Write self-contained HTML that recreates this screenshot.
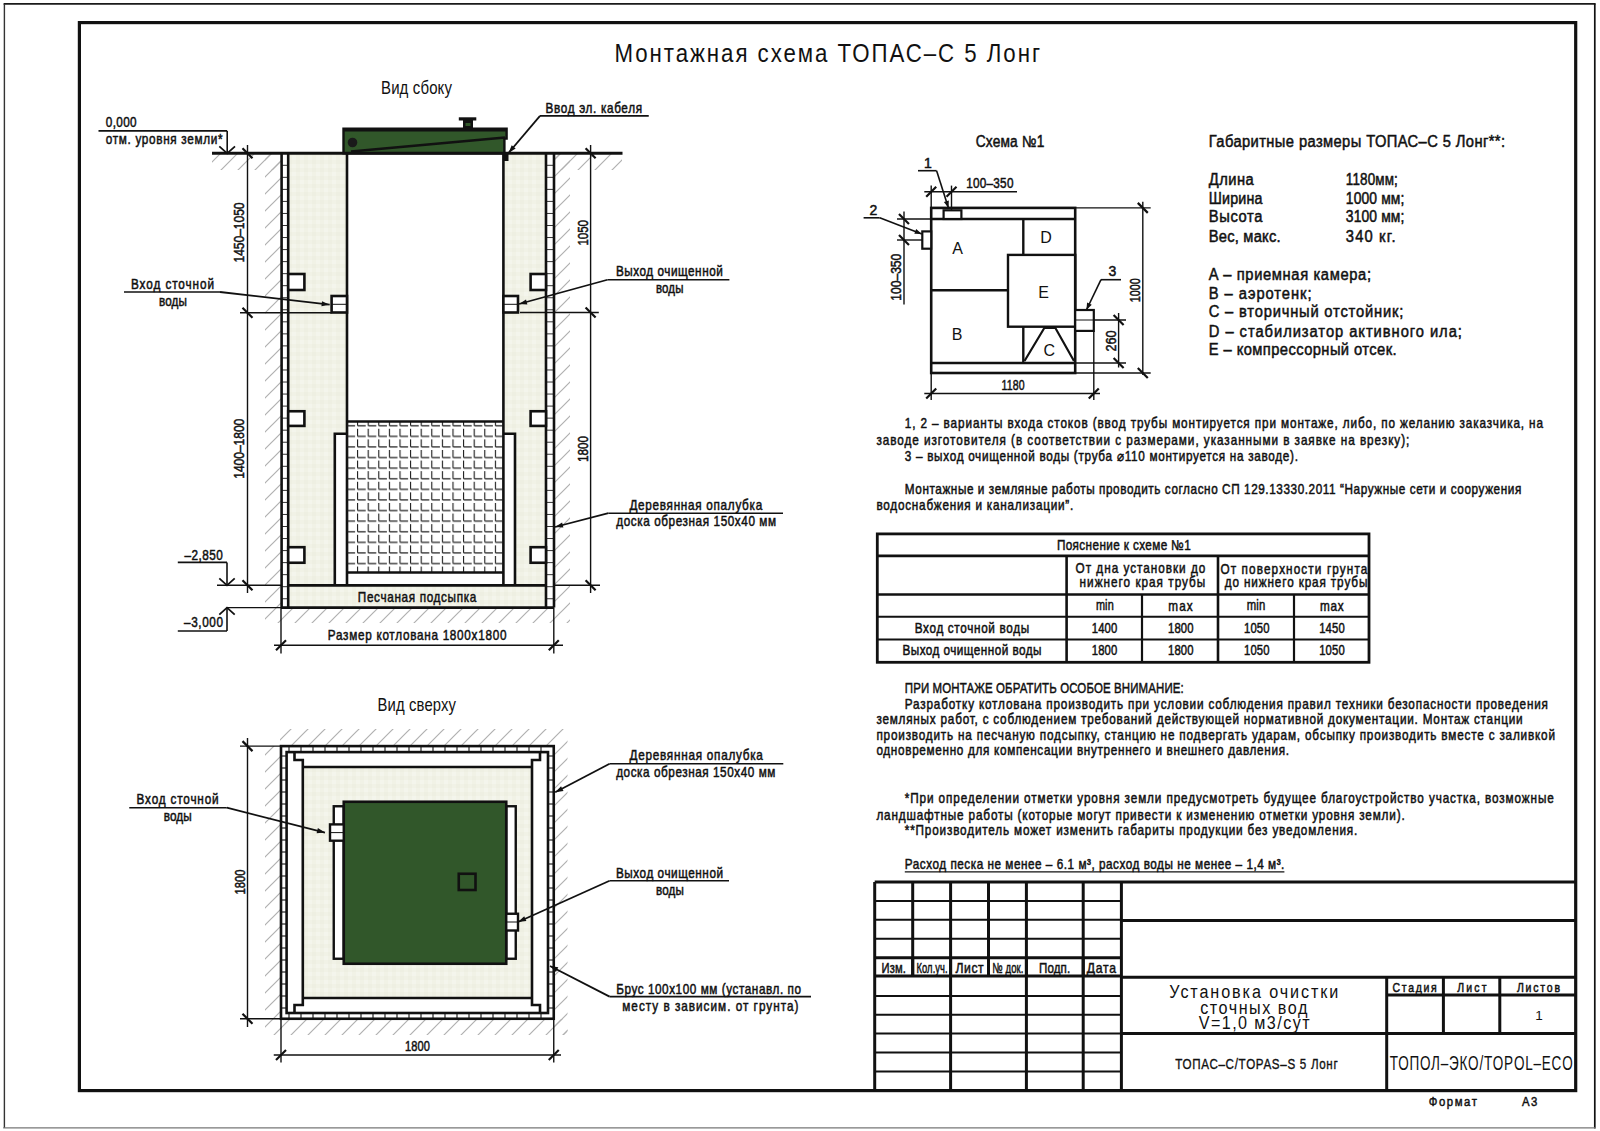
<!DOCTYPE html>
<html><head><meta charset="utf-8"><style>html,body{margin:0;padding:0;background:#fff;overflow:hidden;}svg{display:block;font-family:"Liberation Sans",sans-serif;}</style></head><body>
<svg width="1600" height="1131" viewBox="0 0 1600 1131" font-family="Liberation Sans, sans-serif">
<defs>
<pattern id="hatch" width="17" height="17" patternUnits="userSpaceOnUse"><path d="M0,17 L17,0 M-4,4 L4,-4 M13,21 L21,13" stroke="#b0b0b0" stroke-width="1.2"/></pattern>
<pattern id="sand" width="8" height="8" patternUnits="userSpaceOnUse"><rect width="8" height="8" fill="#f1f2e6"/><rect x="0" y="0" width="4" height="4" fill="#eeefe2"/><rect x="4" y="4" width="4" height="4" fill="#f4f5ec"/></pattern>
<pattern id="grid" width="10.6" height="10.6" patternUnits="userSpaceOnUse" x="345.5" y="417.2"><path d="M1.5,0.9 V8.5 M1.5,8.5 H9.6" stroke="#1a1a1a" stroke-width="1.1"/></pattern>
</defs>
<rect width="1600" height="1131" fill="#fff"/>
<line x1="3.60" y1="3.90" x2="1595.50" y2="3.90" stroke="#1a1a1a" stroke-width="1.7"/>
<line x1="4.40" y1="3.90" x2="4.40" y2="1128.00" stroke="#333" stroke-width="1.4"/>
<line x1="1594.80" y1="3.60" x2="1594.80" y2="1128.50" stroke="#111" stroke-width="1.7"/>
<line x1="3.20" y1="1127.90" x2="1595.50" y2="1127.90" stroke="#777" stroke-width="1.4"/>
<rect x="79.40" y="22.60" width="1496.30" height="1068.00" fill="none" stroke="#111" stroke-width="3.2"/>
<text transform="translate(614.40,62.20) scale(0.84,1)" x="0" y="0" font-size="26.5" font-weight="normal" fill="#111" textLength="506.7" lengthAdjust="spacing">Монтажная схема ТОПАС–С 5 Лонг</text>
<text transform="translate(381.00,94.00) scale(0.8329,1)" x="0" y="0" font-size="18" font-weight="normal" fill="#111" textLength="85.2" lengthAdjust="spacing">Вид сбоку</text>
<rect x="212.00" y="154.00" width="69.00" height="16.00" fill="url(#hatch)"/>
<rect x="265.00" y="154.00" width="16.00" height="454.00" fill="url(#hatch)"/>
<rect x="554.00" y="154.00" width="68.00" height="16.00" fill="url(#hatch)"/>
<rect x="554.00" y="154.00" width="16.00" height="454.00" fill="url(#hatch)"/>
<rect x="265.00" y="608.00" width="305.00" height="15.00" fill="url(#hatch)"/>
<rect x="288.00" y="153.00" width="59.00" height="432.00" fill="url(#sand)"/>
<rect x="503.00" y="153.00" width="43.00" height="432.00" fill="url(#sand)"/>
<rect x="288.00" y="585.00" width="258.00" height="22.60" fill="url(#sand)"/>
<rect x="335.00" y="434.00" width="12.00" height="151.00" fill="#fff"/>
<rect x="503.00" y="434.00" width="12.00" height="151.00" fill="#fff"/>
<rect x="281.60" y="153.00" width="6.60" height="454.60" fill="#fff"/>
<line x1="281.60" y1="165.30" x2="288.20" y2="165.30" stroke="#333" stroke-width="1.0"/>
<line x1="281.60" y1="177.34" x2="288.20" y2="177.34" stroke="#333" stroke-width="1.0"/>
<line x1="281.60" y1="189.38" x2="288.20" y2="189.38" stroke="#333" stroke-width="1.0"/>
<line x1="281.60" y1="201.42" x2="288.20" y2="201.42" stroke="#333" stroke-width="1.0"/>
<line x1="281.60" y1="213.46" x2="288.20" y2="213.46" stroke="#333" stroke-width="1.0"/>
<line x1="281.60" y1="225.50" x2="288.20" y2="225.50" stroke="#333" stroke-width="1.0"/>
<line x1="281.60" y1="237.54" x2="288.20" y2="237.54" stroke="#333" stroke-width="1.0"/>
<line x1="281.60" y1="249.58" x2="288.20" y2="249.58" stroke="#333" stroke-width="1.0"/>
<line x1="281.60" y1="261.62" x2="288.20" y2="261.62" stroke="#333" stroke-width="1.0"/>
<line x1="281.60" y1="273.66" x2="288.20" y2="273.66" stroke="#333" stroke-width="1.0"/>
<line x1="281.60" y1="285.70" x2="288.20" y2="285.70" stroke="#333" stroke-width="1.0"/>
<line x1="281.60" y1="297.74" x2="288.20" y2="297.74" stroke="#333" stroke-width="1.0"/>
<line x1="281.60" y1="309.78" x2="288.20" y2="309.78" stroke="#333" stroke-width="1.0"/>
<line x1="281.60" y1="321.82" x2="288.20" y2="321.82" stroke="#333" stroke-width="1.0"/>
<line x1="281.60" y1="333.86" x2="288.20" y2="333.86" stroke="#333" stroke-width="1.0"/>
<line x1="281.60" y1="345.90" x2="288.20" y2="345.90" stroke="#333" stroke-width="1.0"/>
<line x1="281.60" y1="357.94" x2="288.20" y2="357.94" stroke="#333" stroke-width="1.0"/>
<line x1="281.60" y1="369.98" x2="288.20" y2="369.98" stroke="#333" stroke-width="1.0"/>
<line x1="281.60" y1="382.02" x2="288.20" y2="382.02" stroke="#333" stroke-width="1.0"/>
<line x1="281.60" y1="394.06" x2="288.20" y2="394.06" stroke="#333" stroke-width="1.0"/>
<line x1="281.60" y1="406.10" x2="288.20" y2="406.10" stroke="#333" stroke-width="1.0"/>
<line x1="281.60" y1="418.14" x2="288.20" y2="418.14" stroke="#333" stroke-width="1.0"/>
<line x1="281.60" y1="430.18" x2="288.20" y2="430.18" stroke="#333" stroke-width="1.0"/>
<line x1="281.60" y1="442.22" x2="288.20" y2="442.22" stroke="#333" stroke-width="1.0"/>
<line x1="281.60" y1="454.26" x2="288.20" y2="454.26" stroke="#333" stroke-width="1.0"/>
<line x1="281.60" y1="466.30" x2="288.20" y2="466.30" stroke="#333" stroke-width="1.0"/>
<line x1="281.60" y1="478.34" x2="288.20" y2="478.34" stroke="#333" stroke-width="1.0"/>
<line x1="281.60" y1="490.38" x2="288.20" y2="490.38" stroke="#333" stroke-width="1.0"/>
<line x1="281.60" y1="502.42" x2="288.20" y2="502.42" stroke="#333" stroke-width="1.0"/>
<line x1="281.60" y1="514.46" x2="288.20" y2="514.46" stroke="#333" stroke-width="1.0"/>
<line x1="281.60" y1="526.50" x2="288.20" y2="526.50" stroke="#333" stroke-width="1.0"/>
<line x1="281.60" y1="538.54" x2="288.20" y2="538.54" stroke="#333" stroke-width="1.0"/>
<line x1="281.60" y1="550.58" x2="288.20" y2="550.58" stroke="#333" stroke-width="1.0"/>
<line x1="281.60" y1="562.62" x2="288.20" y2="562.62" stroke="#333" stroke-width="1.0"/>
<line x1="281.60" y1="574.66" x2="288.20" y2="574.66" stroke="#333" stroke-width="1.0"/>
<line x1="281.60" y1="586.70" x2="288.20" y2="586.70" stroke="#333" stroke-width="1.0"/>
<line x1="281.60" y1="598.74" x2="288.20" y2="598.74" stroke="#333" stroke-width="1.0"/>
<line x1="281.60" y1="153.00" x2="281.60" y2="607.60" stroke="#111" stroke-width="2.6"/>
<line x1="288.20" y1="153.00" x2="288.20" y2="607.60" stroke="#111" stroke-width="2.6"/>
<rect x="546.00" y="153.00" width="8.00" height="454.60" fill="#fff"/>
<line x1="546.00" y1="165.30" x2="554.00" y2="165.30" stroke="#333" stroke-width="1.0"/>
<line x1="546.00" y1="177.34" x2="554.00" y2="177.34" stroke="#333" stroke-width="1.0"/>
<line x1="546.00" y1="189.38" x2="554.00" y2="189.38" stroke="#333" stroke-width="1.0"/>
<line x1="546.00" y1="201.42" x2="554.00" y2="201.42" stroke="#333" stroke-width="1.0"/>
<line x1="546.00" y1="213.46" x2="554.00" y2="213.46" stroke="#333" stroke-width="1.0"/>
<line x1="546.00" y1="225.50" x2="554.00" y2="225.50" stroke="#333" stroke-width="1.0"/>
<line x1="546.00" y1="237.54" x2="554.00" y2="237.54" stroke="#333" stroke-width="1.0"/>
<line x1="546.00" y1="249.58" x2="554.00" y2="249.58" stroke="#333" stroke-width="1.0"/>
<line x1="546.00" y1="261.62" x2="554.00" y2="261.62" stroke="#333" stroke-width="1.0"/>
<line x1="546.00" y1="273.66" x2="554.00" y2="273.66" stroke="#333" stroke-width="1.0"/>
<line x1="546.00" y1="285.70" x2="554.00" y2="285.70" stroke="#333" stroke-width="1.0"/>
<line x1="546.00" y1="297.74" x2="554.00" y2="297.74" stroke="#333" stroke-width="1.0"/>
<line x1="546.00" y1="309.78" x2="554.00" y2="309.78" stroke="#333" stroke-width="1.0"/>
<line x1="546.00" y1="321.82" x2="554.00" y2="321.82" stroke="#333" stroke-width="1.0"/>
<line x1="546.00" y1="333.86" x2="554.00" y2="333.86" stroke="#333" stroke-width="1.0"/>
<line x1="546.00" y1="345.90" x2="554.00" y2="345.90" stroke="#333" stroke-width="1.0"/>
<line x1="546.00" y1="357.94" x2="554.00" y2="357.94" stroke="#333" stroke-width="1.0"/>
<line x1="546.00" y1="369.98" x2="554.00" y2="369.98" stroke="#333" stroke-width="1.0"/>
<line x1="546.00" y1="382.02" x2="554.00" y2="382.02" stroke="#333" stroke-width="1.0"/>
<line x1="546.00" y1="394.06" x2="554.00" y2="394.06" stroke="#333" stroke-width="1.0"/>
<line x1="546.00" y1="406.10" x2="554.00" y2="406.10" stroke="#333" stroke-width="1.0"/>
<line x1="546.00" y1="418.14" x2="554.00" y2="418.14" stroke="#333" stroke-width="1.0"/>
<line x1="546.00" y1="430.18" x2="554.00" y2="430.18" stroke="#333" stroke-width="1.0"/>
<line x1="546.00" y1="442.22" x2="554.00" y2="442.22" stroke="#333" stroke-width="1.0"/>
<line x1="546.00" y1="454.26" x2="554.00" y2="454.26" stroke="#333" stroke-width="1.0"/>
<line x1="546.00" y1="466.30" x2="554.00" y2="466.30" stroke="#333" stroke-width="1.0"/>
<line x1="546.00" y1="478.34" x2="554.00" y2="478.34" stroke="#333" stroke-width="1.0"/>
<line x1="546.00" y1="490.38" x2="554.00" y2="490.38" stroke="#333" stroke-width="1.0"/>
<line x1="546.00" y1="502.42" x2="554.00" y2="502.42" stroke="#333" stroke-width="1.0"/>
<line x1="546.00" y1="514.46" x2="554.00" y2="514.46" stroke="#333" stroke-width="1.0"/>
<line x1="546.00" y1="526.50" x2="554.00" y2="526.50" stroke="#333" stroke-width="1.0"/>
<line x1="546.00" y1="538.54" x2="554.00" y2="538.54" stroke="#333" stroke-width="1.0"/>
<line x1="546.00" y1="550.58" x2="554.00" y2="550.58" stroke="#333" stroke-width="1.0"/>
<line x1="546.00" y1="562.62" x2="554.00" y2="562.62" stroke="#333" stroke-width="1.0"/>
<line x1="546.00" y1="574.66" x2="554.00" y2="574.66" stroke="#333" stroke-width="1.0"/>
<line x1="546.00" y1="586.70" x2="554.00" y2="586.70" stroke="#333" stroke-width="1.0"/>
<line x1="546.00" y1="598.74" x2="554.00" y2="598.74" stroke="#333" stroke-width="1.0"/>
<line x1="546.00" y1="153.00" x2="546.00" y2="607.60" stroke="#111" stroke-width="2.6"/>
<line x1="554.00" y1="153.00" x2="554.00" y2="607.60" stroke="#111" stroke-width="2.6"/>
<line x1="347.00" y1="153.00" x2="347.00" y2="585.30" stroke="#111" stroke-width="2.6"/>
<line x1="503.40" y1="153.00" x2="503.40" y2="585.30" stroke="#111" stroke-width="2.6"/>
<rect x="347.00" y="421.50" width="156.40" height="151.00" fill="url(#grid)"/>
<line x1="347.00" y1="421.50" x2="503.40" y2="421.50" stroke="#111" stroke-width="2.6"/>
<line x1="347.00" y1="572.50" x2="503.40" y2="572.50" stroke="#111" stroke-width="2.6"/>
<path d="M334.8,585 V433.7 H347" fill="none" stroke="#111" stroke-width="2.6"/>
<path d="M515,585 V433.7 H503.4" fill="none" stroke="#111" stroke-width="2.6"/>
<line x1="288.00" y1="585.30" x2="546.00" y2="585.30" stroke="#111" stroke-width="2.8"/>
<line x1="281.00" y1="607.60" x2="554.00" y2="607.60" stroke="#111" stroke-width="2.8"/>
<rect x="288.20" y="274.00" width="16.20" height="16.00" fill="#fff" stroke="#111" stroke-width="2.6"/>
<rect x="530.60" y="274.00" width="15.40" height="16.00" fill="#fff" stroke="#111" stroke-width="2.6"/>
<rect x="288.20" y="411.25" width="16.20" height="14.65" fill="#fff" stroke="#111" stroke-width="2.6"/>
<rect x="530.60" y="411.25" width="15.40" height="14.65" fill="#fff" stroke="#111" stroke-width="2.6"/>
<rect x="288.20" y="547.20" width="16.20" height="15.55" fill="#fff" stroke="#111" stroke-width="2.6"/>
<rect x="530.60" y="547.20" width="15.40" height="15.55" fill="#fff" stroke="#111" stroke-width="2.6"/>
<rect x="331.60" y="296.00" width="15.40" height="16.50" fill="#fff" stroke="#111" stroke-width="2.6"/>
<line x1="331.60" y1="304.30" x2="347.00" y2="304.30" stroke="#111" stroke-width="1"/>
<rect x="503.40" y="296.00" width="14.60" height="16.50" fill="#fff" stroke="#111" stroke-width="2.6"/>
<line x1="503.40" y1="304.30" x2="518.00" y2="304.30" stroke="#111" stroke-width="1"/>
<path d="M343.5,153 V128.6 H506.6 V138.6 H504.4 V153" fill="none" stroke="#111" stroke-width="0"/>
<path d="M343.5,153.3 V128.6 H506.6 V138.6 H504.4 V153.3 Z" fill="#31572a" stroke="#111" stroke-width="2.4"/>
<line x1="343.50" y1="129.80" x2="506.60" y2="129.80" stroke="#111" stroke-width="3.5"/>
<line x1="351.00" y1="151.50" x2="505.00" y2="137.50" stroke="#111" stroke-width="2.6"/>
<circle cx="352.5" cy="142.5" r="4.8" fill="#1a1a1a"/>
<ellipse cx="352" cy="801" rx="3.5" ry="1.8" fill="#111"/>
<rect x="463" y="120" width="10" height="9" fill="#111"/><rect x="465.5" y="123" width="5" height="3" fill="#31572a"/>
<rect x="458.8" y="117.3" width="17.5" height="3.2" fill="#111"/>
<line x1="212.00" y1="153.30" x2="622.50" y2="153.30" stroke="#111" stroke-width="3"/>
<rect x="503.00" y="153.00" width="5.50" height="8.00" fill="#111"/>
<line x1="247.50" y1="145.00" x2="247.50" y2="593.00" stroke="#111" stroke-width="1.4"/>
<line x1="242.50" y1="148.30" x2="252.50" y2="158.30" stroke="#111" stroke-width="2.2"/>
<line x1="242.50" y1="307.75" x2="252.50" y2="317.75" stroke="#111" stroke-width="2.2"/>
<line x1="242.50" y1="580.30" x2="252.50" y2="590.30" stroke="#111" stroke-width="2.2"/>
<line x1="240.00" y1="312.75" x2="331.60" y2="312.75" stroke="#111" stroke-width="1.4"/>
<line x1="217.00" y1="585.30" x2="281.60" y2="585.30" stroke="#111" stroke-width="1.4"/>
<line x1="227.00" y1="607.60" x2="281.60" y2="607.60" stroke="#111" stroke-width="1.4"/>
<text x="238.70" y="232.50" font-size="14.0" font-weight="normal" text-anchor="middle" fill="#111" textLength="60.0" lengthAdjust="spacingAndGlyphs" transform="rotate(-90 238.70 232.50)" dominant-baseline="central" stroke="#111" stroke-width="0.5">1450–1050</text>
<text x="238.70" y="448.75" font-size="14.0" font-weight="normal" text-anchor="middle" fill="#111" textLength="60.0" lengthAdjust="spacingAndGlyphs" transform="rotate(-90 238.70 448.75)" dominant-baseline="central" stroke="#111" stroke-width="0.5">1400–1800</text>
<line x1="590.60" y1="145.00" x2="590.60" y2="593.00" stroke="#111" stroke-width="1.4"/>
<line x1="585.60" y1="148.30" x2="595.60" y2="158.30" stroke="#111" stroke-width="2.2"/>
<line x1="585.60" y1="307.50" x2="595.60" y2="317.50" stroke="#111" stroke-width="2.2"/>
<line x1="585.60" y1="580.30" x2="595.60" y2="590.30" stroke="#111" stroke-width="2.2"/>
<line x1="520.00" y1="312.50" x2="598.80" y2="312.50" stroke="#111" stroke-width="1.4"/>
<line x1="554.00" y1="585.30" x2="600.00" y2="585.30" stroke="#111" stroke-width="1.4"/>
<text x="582.75" y="232.80" font-size="14.0" font-weight="normal" text-anchor="middle" fill="#111" textLength="25.6" lengthAdjust="spacingAndGlyphs" transform="rotate(-90 582.75 232.80)" dominant-baseline="central" stroke="#111" stroke-width="0.5">1050</text>
<text x="582.50" y="449.00" font-size="14.0" font-weight="normal" text-anchor="middle" fill="#111" textLength="26.0" lengthAdjust="spacingAndGlyphs" transform="rotate(-90 582.50 449.00)" dominant-baseline="central" stroke="#111" stroke-width="0.5">1800</text>
<text transform="translate(105.75,127.30) scale(0.8400,1)" x="0" y="0" font-size="14.0" font-weight="normal" fill="#111" stroke="#111" stroke-width="0.5" textLength="36.7" lengthAdjust="spacing">0,000</text>
<line x1="98.50" y1="130.90" x2="227.20" y2="130.90" stroke="#111" stroke-width="1.6"/>
<line x1="227.20" y1="130.90" x2="227.20" y2="153.30" stroke="#111" stroke-width="1.6"/>
<path d="M219.3,146.3 L227.2,153.3 L235,146.3" fill="none" stroke="#111" stroke-width="1.8"/>
<text transform="translate(105.75,143.70) scale(0.8400,1)" x="0" y="0" font-size="14.0" font-weight="normal" fill="#111" stroke="#111" stroke-width="0.5" textLength="139.1" lengthAdjust="spacing">отм. уровня земли*</text>
<text transform="translate(184.40,559.80) scale(0.8400,1)" x="0" y="0" font-size="14.0" font-weight="normal" fill="#111" stroke="#111" stroke-width="0.5" textLength="45.7" lengthAdjust="spacing">–2,850</text>
<line x1="177.80" y1="562.40" x2="227.00" y2="562.40" stroke="#111" stroke-width="1.6"/>
<line x1="227.00" y1="562.40" x2="227.00" y2="585.30" stroke="#111" stroke-width="1.6"/>
<path d="M219.3,578.3 L227,585.3 L234.7,578.3" fill="none" stroke="#111" stroke-width="1.8"/>
<text transform="translate(184.00,627.40) scale(0.8400,1)" x="0" y="0" font-size="14.0" font-weight="normal" fill="#111" stroke="#111" stroke-width="0.5" textLength="46.4" lengthAdjust="spacing">–3,000</text>
<line x1="177.80" y1="631.00" x2="227.00" y2="631.00" stroke="#111" stroke-width="1.6"/>
<line x1="227.00" y1="631.00" x2="227.00" y2="607.60" stroke="#111" stroke-width="1.6"/>
<path d="M219.3,614.6 L227,607.6 L234.7,614.6" fill="none" stroke="#111" stroke-width="1.8"/>
<line x1="281.00" y1="607.60" x2="281.00" y2="653.50" stroke="#111" stroke-width="1.4"/>
<line x1="553.80" y1="607.60" x2="553.80" y2="653.50" stroke="#111" stroke-width="1.4"/>
<line x1="274.00" y1="645.30" x2="563.00" y2="645.30" stroke="#111" stroke-width="1.4"/>
<line x1="276.00" y1="650.30" x2="286.00" y2="640.30" stroke="#111" stroke-width="2.2"/>
<line x1="548.80" y1="650.30" x2="558.80" y2="640.30" stroke="#111" stroke-width="2.2"/>
<text transform="translate(327.80,639.80) scale(0.8400,1)" x="0" y="0" font-size="14.0" font-weight="normal" fill="#111" stroke="#111" stroke-width="0.5" textLength="212.7" lengthAdjust="spacing">Размер котлована 1800х1800</text>
<text transform="translate(357.80,602.00) scale(0.8400,1)" x="0" y="0" font-size="14.0" font-weight="normal" fill="#111" stroke="#111" stroke-width="0.5" textLength="141.1" lengthAdjust="spacing">Песчаная подсыпка</text>
<text transform="translate(545.60,112.50) scale(0.8400,1)" x="0" y="0" font-size="14.0" font-weight="normal" fill="#111" stroke="#111" stroke-width="0.5" textLength="114.8" lengthAdjust="spacing">Ввод эл. кабеля</text>
<line x1="540.00" y1="115.90" x2="648.75" y2="115.90" stroke="#111" stroke-width="1.6"/>
<line x1="540.00" y1="115.90" x2="508.50" y2="153.00" stroke="#111" stroke-width="1.8"/>
<path d="M508.50,153.00 L511.70,145.22 L515.66,148.58 Z" fill="#111"/>
<text transform="translate(131.00,289.00) scale(0.8400,1)" x="0" y="0" font-size="14.0" font-weight="normal" fill="#111" stroke="#111" stroke-width="0.5" textLength="98.8" lengthAdjust="spacing">Вход сточной</text>
<text transform="translate(159.00,306.00) scale(0.8358,1)" x="0" y="0" font-size="14.0" font-weight="normal" fill="#111" stroke="#111" stroke-width="0.5" textLength="33.5" lengthAdjust="spacing">воды</text>
<line x1="124.00" y1="292.00" x2="220.00" y2="292.00" stroke="#111" stroke-width="1.6"/>
<line x1="220.00" y1="292.00" x2="329.70" y2="304.70" stroke="#111" stroke-width="1.8"/>
<path d="M329.70,304.70 L321.45,306.36 L322.05,301.20 Z" fill="#111"/>
<text transform="translate(616.00,275.60) scale(0.8400,1)" x="0" y="0" font-size="14.0" font-weight="normal" fill="#111" stroke="#111" stroke-width="0.5" textLength="127.1" lengthAdjust="spacing">Выход очищенной</text>
<text transform="translate(656.00,292.50) scale(0.8178,1)" x="0" y="0" font-size="14.0" font-weight="normal" fill="#111" stroke="#111" stroke-width="0.5" textLength="33.5" lengthAdjust="spacing">воды</text>
<line x1="607.50" y1="279.75" x2="729.40" y2="279.75" stroke="#111" stroke-width="1.6"/>
<line x1="607.50" y1="279.75" x2="519.00" y2="304.00" stroke="#111" stroke-width="1.8"/>
<path d="M519.00,304.00 L526.03,299.38 L527.40,304.39 Z" fill="#111"/>
<text transform="translate(629.40,509.70) scale(0.8400,1)" x="0" y="0" font-size="14.0" font-weight="normal" fill="#111" stroke="#111" stroke-width="0.5" textLength="158.1" lengthAdjust="spacing">Деревянная опалубка</text>
<text transform="translate(616.25,526.10) scale(0.8400,1)" x="0" y="0" font-size="14.0" font-weight="normal" fill="#111" stroke="#111" stroke-width="0.5" textLength="190.3" lengthAdjust="spacing">доска обрезная 150х40 мм</text>
<line x1="608.40" y1="513.20" x2="783.00" y2="513.20" stroke="#111" stroke-width="1.6"/>
<line x1="608.40" y1="513.20" x2="555.00" y2="527.00" stroke="#111" stroke-width="1.8"/>
<path d="M555.00,527.00 L562.10,522.48 L563.40,527.52 Z" fill="#111"/>
<text transform="translate(377.50,710.50) scale(0.8248,1)" x="0" y="0" font-size="18" font-weight="normal" fill="#111" textLength="95.2" lengthAdjust="spacing">Вид сверху</text>
<rect x="280.00" y="729.00" width="287.50" height="17.00" fill="url(#hatch)"/>
<rect x="265.00" y="746.00" width="16.00" height="289.00" fill="url(#hatch)"/>
<rect x="554.00" y="746.00" width="13.50" height="289.00" fill="url(#hatch)"/>
<rect x="281.00" y="1019.00" width="286.50" height="16.00" fill="url(#hatch)"/>
<rect x="281.00" y="746.10" width="272.75" height="272.65" fill="#fff"/>
<rect x="302.80" y="767.00" width="229.20" height="231.00" fill="url(#sand)"/>
<rect x="281.00" y="746.10" width="272.75" height="272.65" fill="none" stroke="#111" stroke-width="2.6"/>
<rect x="286.60" y="752.10" width="261.40" height="260.90" fill="none" stroke="#111" stroke-width="2.6"/>
<line x1="289.00" y1="746.10" x2="289.00" y2="752.10" stroke="#111" stroke-width="1.1"/>
<line x1="289.00" y1="1013.00" x2="289.00" y2="1018.75" stroke="#111" stroke-width="1.1"/>
<line x1="301.00" y1="746.10" x2="301.00" y2="752.10" stroke="#111" stroke-width="1.1"/>
<line x1="301.00" y1="1013.00" x2="301.00" y2="1018.75" stroke="#111" stroke-width="1.1"/>
<line x1="313.00" y1="746.10" x2="313.00" y2="752.10" stroke="#111" stroke-width="1.1"/>
<line x1="313.00" y1="1013.00" x2="313.00" y2="1018.75" stroke="#111" stroke-width="1.1"/>
<line x1="325.00" y1="746.10" x2="325.00" y2="752.10" stroke="#111" stroke-width="1.1"/>
<line x1="325.00" y1="1013.00" x2="325.00" y2="1018.75" stroke="#111" stroke-width="1.1"/>
<line x1="337.00" y1="746.10" x2="337.00" y2="752.10" stroke="#111" stroke-width="1.1"/>
<line x1="337.00" y1="1013.00" x2="337.00" y2="1018.75" stroke="#111" stroke-width="1.1"/>
<line x1="349.00" y1="746.10" x2="349.00" y2="752.10" stroke="#111" stroke-width="1.1"/>
<line x1="349.00" y1="1013.00" x2="349.00" y2="1018.75" stroke="#111" stroke-width="1.1"/>
<line x1="361.00" y1="746.10" x2="361.00" y2="752.10" stroke="#111" stroke-width="1.1"/>
<line x1="361.00" y1="1013.00" x2="361.00" y2="1018.75" stroke="#111" stroke-width="1.1"/>
<line x1="373.00" y1="746.10" x2="373.00" y2="752.10" stroke="#111" stroke-width="1.1"/>
<line x1="373.00" y1="1013.00" x2="373.00" y2="1018.75" stroke="#111" stroke-width="1.1"/>
<line x1="385.00" y1="746.10" x2="385.00" y2="752.10" stroke="#111" stroke-width="1.1"/>
<line x1="385.00" y1="1013.00" x2="385.00" y2="1018.75" stroke="#111" stroke-width="1.1"/>
<line x1="397.00" y1="746.10" x2="397.00" y2="752.10" stroke="#111" stroke-width="1.1"/>
<line x1="397.00" y1="1013.00" x2="397.00" y2="1018.75" stroke="#111" stroke-width="1.1"/>
<line x1="409.00" y1="746.10" x2="409.00" y2="752.10" stroke="#111" stroke-width="1.1"/>
<line x1="409.00" y1="1013.00" x2="409.00" y2="1018.75" stroke="#111" stroke-width="1.1"/>
<line x1="421.00" y1="746.10" x2="421.00" y2="752.10" stroke="#111" stroke-width="1.1"/>
<line x1="421.00" y1="1013.00" x2="421.00" y2="1018.75" stroke="#111" stroke-width="1.1"/>
<line x1="433.00" y1="746.10" x2="433.00" y2="752.10" stroke="#111" stroke-width="1.1"/>
<line x1="433.00" y1="1013.00" x2="433.00" y2="1018.75" stroke="#111" stroke-width="1.1"/>
<line x1="445.00" y1="746.10" x2="445.00" y2="752.10" stroke="#111" stroke-width="1.1"/>
<line x1="445.00" y1="1013.00" x2="445.00" y2="1018.75" stroke="#111" stroke-width="1.1"/>
<line x1="457.00" y1="746.10" x2="457.00" y2="752.10" stroke="#111" stroke-width="1.1"/>
<line x1="457.00" y1="1013.00" x2="457.00" y2="1018.75" stroke="#111" stroke-width="1.1"/>
<line x1="469.00" y1="746.10" x2="469.00" y2="752.10" stroke="#111" stroke-width="1.1"/>
<line x1="469.00" y1="1013.00" x2="469.00" y2="1018.75" stroke="#111" stroke-width="1.1"/>
<line x1="481.00" y1="746.10" x2="481.00" y2="752.10" stroke="#111" stroke-width="1.1"/>
<line x1="481.00" y1="1013.00" x2="481.00" y2="1018.75" stroke="#111" stroke-width="1.1"/>
<line x1="493.00" y1="746.10" x2="493.00" y2="752.10" stroke="#111" stroke-width="1.1"/>
<line x1="493.00" y1="1013.00" x2="493.00" y2="1018.75" stroke="#111" stroke-width="1.1"/>
<line x1="505.00" y1="746.10" x2="505.00" y2="752.10" stroke="#111" stroke-width="1.1"/>
<line x1="505.00" y1="1013.00" x2="505.00" y2="1018.75" stroke="#111" stroke-width="1.1"/>
<line x1="517.00" y1="746.10" x2="517.00" y2="752.10" stroke="#111" stroke-width="1.1"/>
<line x1="517.00" y1="1013.00" x2="517.00" y2="1018.75" stroke="#111" stroke-width="1.1"/>
<line x1="529.00" y1="746.10" x2="529.00" y2="752.10" stroke="#111" stroke-width="1.1"/>
<line x1="529.00" y1="1013.00" x2="529.00" y2="1018.75" stroke="#111" stroke-width="1.1"/>
<line x1="541.00" y1="746.10" x2="541.00" y2="752.10" stroke="#111" stroke-width="1.1"/>
<line x1="541.00" y1="1013.00" x2="541.00" y2="1018.75" stroke="#111" stroke-width="1.1"/>
<line x1="281.00" y1="756.00" x2="286.60" y2="756.00" stroke="#111" stroke-width="1.1"/>
<line x1="548.00" y1="756.00" x2="553.75" y2="756.00" stroke="#111" stroke-width="1.1"/>
<line x1="281.00" y1="768.00" x2="286.60" y2="768.00" stroke="#111" stroke-width="1.1"/>
<line x1="548.00" y1="768.00" x2="553.75" y2="768.00" stroke="#111" stroke-width="1.1"/>
<line x1="281.00" y1="780.00" x2="286.60" y2="780.00" stroke="#111" stroke-width="1.1"/>
<line x1="548.00" y1="780.00" x2="553.75" y2="780.00" stroke="#111" stroke-width="1.1"/>
<line x1="281.00" y1="792.00" x2="286.60" y2="792.00" stroke="#111" stroke-width="1.1"/>
<line x1="548.00" y1="792.00" x2="553.75" y2="792.00" stroke="#111" stroke-width="1.1"/>
<line x1="281.00" y1="804.00" x2="286.60" y2="804.00" stroke="#111" stroke-width="1.1"/>
<line x1="548.00" y1="804.00" x2="553.75" y2="804.00" stroke="#111" stroke-width="1.1"/>
<line x1="281.00" y1="816.00" x2="286.60" y2="816.00" stroke="#111" stroke-width="1.1"/>
<line x1="548.00" y1="816.00" x2="553.75" y2="816.00" stroke="#111" stroke-width="1.1"/>
<line x1="281.00" y1="828.00" x2="286.60" y2="828.00" stroke="#111" stroke-width="1.1"/>
<line x1="548.00" y1="828.00" x2="553.75" y2="828.00" stroke="#111" stroke-width="1.1"/>
<line x1="281.00" y1="840.00" x2="286.60" y2="840.00" stroke="#111" stroke-width="1.1"/>
<line x1="548.00" y1="840.00" x2="553.75" y2="840.00" stroke="#111" stroke-width="1.1"/>
<line x1="281.00" y1="852.00" x2="286.60" y2="852.00" stroke="#111" stroke-width="1.1"/>
<line x1="548.00" y1="852.00" x2="553.75" y2="852.00" stroke="#111" stroke-width="1.1"/>
<line x1="281.00" y1="864.00" x2="286.60" y2="864.00" stroke="#111" stroke-width="1.1"/>
<line x1="548.00" y1="864.00" x2="553.75" y2="864.00" stroke="#111" stroke-width="1.1"/>
<line x1="281.00" y1="876.00" x2="286.60" y2="876.00" stroke="#111" stroke-width="1.1"/>
<line x1="548.00" y1="876.00" x2="553.75" y2="876.00" stroke="#111" stroke-width="1.1"/>
<line x1="281.00" y1="888.00" x2="286.60" y2="888.00" stroke="#111" stroke-width="1.1"/>
<line x1="548.00" y1="888.00" x2="553.75" y2="888.00" stroke="#111" stroke-width="1.1"/>
<line x1="281.00" y1="900.00" x2="286.60" y2="900.00" stroke="#111" stroke-width="1.1"/>
<line x1="548.00" y1="900.00" x2="553.75" y2="900.00" stroke="#111" stroke-width="1.1"/>
<line x1="281.00" y1="912.00" x2="286.60" y2="912.00" stroke="#111" stroke-width="1.1"/>
<line x1="548.00" y1="912.00" x2="553.75" y2="912.00" stroke="#111" stroke-width="1.1"/>
<line x1="281.00" y1="924.00" x2="286.60" y2="924.00" stroke="#111" stroke-width="1.1"/>
<line x1="548.00" y1="924.00" x2="553.75" y2="924.00" stroke="#111" stroke-width="1.1"/>
<line x1="281.00" y1="936.00" x2="286.60" y2="936.00" stroke="#111" stroke-width="1.1"/>
<line x1="548.00" y1="936.00" x2="553.75" y2="936.00" stroke="#111" stroke-width="1.1"/>
<line x1="281.00" y1="948.00" x2="286.60" y2="948.00" stroke="#111" stroke-width="1.1"/>
<line x1="548.00" y1="948.00" x2="553.75" y2="948.00" stroke="#111" stroke-width="1.1"/>
<line x1="281.00" y1="960.00" x2="286.60" y2="960.00" stroke="#111" stroke-width="1.1"/>
<line x1="548.00" y1="960.00" x2="553.75" y2="960.00" stroke="#111" stroke-width="1.1"/>
<line x1="281.00" y1="972.00" x2="286.60" y2="972.00" stroke="#111" stroke-width="1.1"/>
<line x1="548.00" y1="972.00" x2="553.75" y2="972.00" stroke="#111" stroke-width="1.1"/>
<line x1="281.00" y1="984.00" x2="286.60" y2="984.00" stroke="#111" stroke-width="1.1"/>
<line x1="548.00" y1="984.00" x2="553.75" y2="984.00" stroke="#111" stroke-width="1.1"/>
<line x1="281.00" y1="996.00" x2="286.60" y2="996.00" stroke="#111" stroke-width="1.1"/>
<line x1="548.00" y1="996.00" x2="553.75" y2="996.00" stroke="#111" stroke-width="1.1"/>
<line x1="281.00" y1="1008.00" x2="286.60" y2="1008.00" stroke="#111" stroke-width="1.1"/>
<line x1="548.00" y1="1008.00" x2="553.75" y2="1008.00" stroke="#111" stroke-width="1.1"/>
<path d="M294.5,752.1 V760 H302.8 V1005 H294.5 V1013" fill="none" stroke="#111" stroke-width="2.6"/>
<path d="M540,752.1 V760 H532 V1005 H540 V1013" fill="none" stroke="#111" stroke-width="2.6"/>
<line x1="302.80" y1="767.00" x2="532.00" y2="767.00" stroke="#111" stroke-width="2.6"/>
<line x1="302.80" y1="998.00" x2="532.00" y2="998.00" stroke="#111" stroke-width="2.6"/>
<rect x="333.75" y="806.25" width="10.00" height="152.50" fill="#fff" stroke="#111" stroke-width="2.4"/>
<rect x="506.25" y="806.25" width="9.50" height="152.50" fill="#fff" stroke="#111" stroke-width="2.4"/>
<rect x="343.75" y="801.75" width="162.5" height="162" fill="#31572a" stroke="#111" stroke-width="2.6"/>
<rect x="458.75" y="873.75" width="16.75" height="16.25" fill="none" stroke="#111" stroke-width="2.6"/>
<rect x="330.00" y="824.40" width="13.75" height="16.30" fill="#fff" stroke="#111" stroke-width="2.4"/>
<line x1="330.00" y1="832.60" x2="343.75" y2="832.60" stroke="#111" stroke-width="1"/>
<rect x="506.25" y="913.75" width="11.75" height="16.75" fill="#fff" stroke="#111" stroke-width="2.4"/>
<line x1="506.25" y1="922.00" x2="518.00" y2="922.00" stroke="#111" stroke-width="1"/>
<line x1="247.50" y1="738.00" x2="247.50" y2="1027.00" stroke="#111" stroke-width="1.4"/>
<line x1="242.50" y1="741.10" x2="252.50" y2="751.10" stroke="#111" stroke-width="2.2"/>
<line x1="242.50" y1="1013.75" x2="252.50" y2="1023.75" stroke="#111" stroke-width="2.2"/>
<line x1="240.00" y1="746.10" x2="281.00" y2="746.10" stroke="#111" stroke-width="1.4"/>
<line x1="240.00" y1="1018.75" x2="281.00" y2="1018.75" stroke="#111" stroke-width="1.4"/>
<text x="240.00" y="882.00" font-size="14.0" font-weight="normal" text-anchor="middle" fill="#111" textLength="25.0" lengthAdjust="spacingAndGlyphs" transform="rotate(-90 240.00 882.00)" dominant-baseline="central" stroke="#111" stroke-width="0.5">1800</text>
<line x1="281.00" y1="1019.00" x2="281.00" y2="1062.50" stroke="#111" stroke-width="1.4"/>
<line x1="553.75" y1="1019.00" x2="553.75" y2="1062.50" stroke="#111" stroke-width="1.4"/>
<line x1="273.75" y1="1055.00" x2="561.00" y2="1055.00" stroke="#111" stroke-width="1.4"/>
<line x1="276.00" y1="1060.00" x2="286.00" y2="1050.00" stroke="#111" stroke-width="2.2"/>
<line x1="548.75" y1="1060.00" x2="558.75" y2="1050.00" stroke="#111" stroke-width="2.2"/>
<text transform="translate(405.00,1051.00) scale(0.7904,1)" x="0" y="0" font-size="14.0" font-weight="normal" fill="#111" stroke="#111" stroke-width="0.5" textLength="31.6" lengthAdjust="spacing">1800</text>
<text transform="translate(136.60,804.00) scale(0.8400,1)" x="0" y="0" font-size="14.0" font-weight="normal" fill="#111" stroke="#111" stroke-width="0.5" textLength="97.6" lengthAdjust="spacing">Вход сточной</text>
<text transform="translate(163.70,820.70) scale(0.8387,1)" x="0" y="0" font-size="14.0" font-weight="normal" fill="#111" stroke="#111" stroke-width="0.5" textLength="33.5" lengthAdjust="spacing">воды</text>
<line x1="129.25" y1="807.70" x2="226.75" y2="807.70" stroke="#111" stroke-width="1.6"/>
<line x1="226.75" y1="807.70" x2="325.00" y2="832.60" stroke="#111" stroke-width="1.8"/>
<path d="M325.00,832.60 L316.61,833.15 L317.88,828.11 Z" fill="#111"/>
<text transform="translate(629.50,760.00) scale(0.8400,1)" x="0" y="0" font-size="14.0" font-weight="normal" fill="#111" stroke="#111" stroke-width="0.5" textLength="158.8" lengthAdjust="spacing">Деревянная опалубка</text>
<text transform="translate(616.20,777.20) scale(0.8400,1)" x="0" y="0" font-size="14.0" font-weight="normal" fill="#111" stroke="#111" stroke-width="0.5" textLength="189.5" lengthAdjust="spacing">доска обрезная 150х40 мм</text>
<line x1="609.60" y1="763.70" x2="783.30" y2="763.70" stroke="#111" stroke-width="1.6"/>
<line x1="609.60" y1="763.70" x2="555.20" y2="792.30" stroke="#111" stroke-width="1.8"/>
<path d="M555.20,792.30 L561.07,786.28 L563.49,790.88 Z" fill="#111"/>
<text transform="translate(616.00,877.70) scale(0.8400,1)" x="0" y="0" font-size="14.0" font-weight="normal" fill="#111" stroke="#111" stroke-width="0.5" textLength="127.4" lengthAdjust="spacing">Выход очищенной</text>
<text transform="translate(656.00,894.50) scale(0.8298,1)" x="0" y="0" font-size="14.0" font-weight="normal" fill="#111" stroke="#111" stroke-width="0.5" textLength="33.5" lengthAdjust="spacing">воды</text>
<line x1="609.60" y1="880.70" x2="729.00" y2="880.70" stroke="#111" stroke-width="1.6"/>
<line x1="609.60" y1="880.70" x2="518.00" y2="922.00" stroke="#111" stroke-width="1.8"/>
<path d="M518.00,922.00 L524.22,916.34 L526.36,921.08 Z" fill="#111"/>
<text transform="translate(616.20,994.00) scale(0.8400,1)" x="0" y="0" font-size="14.0" font-weight="normal" fill="#111" stroke="#111" stroke-width="0.5" textLength="220.0" lengthAdjust="spacing">Брус 100х100 мм (устанавл. по</text>
<text transform="translate(622.30,1010.60) scale(0.8400,1)" x="0" y="0" font-size="14.0" font-weight="normal" fill="#111" stroke="#111" stroke-width="0.5" textLength="209.6" lengthAdjust="spacing">месту в зависим. от грунта)</text>
<line x1="609.60" y1="996.60" x2="811.00" y2="996.60" stroke="#111" stroke-width="1.6"/>
<line x1="609.60" y1="996.60" x2="550.00" y2="966.00" stroke="#111" stroke-width="1.8"/>
<path d="M550.00,966.00 L558.30,967.34 L555.93,971.97 Z" fill="#111"/>
<text transform="translate(975.70,146.70) scale(0.8587,1)" x="0" y="0" font-size="16" font-weight="normal" fill="#111" stroke="#111" stroke-width="0.5" textLength="79.9" lengthAdjust="spacing">Схема №1</text>
<rect x="931.20" y="207.90" width="144.00" height="165.10" fill="none" stroke="#111" stroke-width="2.6"/>
<line x1="931.20" y1="219.00" x2="1075.20" y2="219.00" stroke="#111" stroke-width="2.4"/>
<line x1="931.20" y1="363.00" x2="1075.20" y2="363.00" stroke="#111" stroke-width="2.4"/>
<line x1="1023.30" y1="219.00" x2="1023.30" y2="255.00" stroke="#111" stroke-width="2.4"/>
<rect x="1008.00" y="254.90" width="67.20" height="71.80" fill="none" stroke="#111" stroke-width="2.4"/>
<line x1="931.20" y1="290.30" x2="1008.00" y2="290.30" stroke="#111" stroke-width="2.4"/>
<line x1="1023.30" y1="326.70" x2="1023.30" y2="363.00" stroke="#111" stroke-width="2.4"/>
<path d="M1024.5,361 L1044.3,328 H1055.4 L1074,361" fill="none" stroke="#111" stroke-width="2.2"/>
<text x="957.70" y="253.70" font-size="16" font-weight="normal" text-anchor="middle" fill="#111">A</text>
<text x="1046.00" y="242.50" font-size="16" font-weight="normal" text-anchor="middle" fill="#111">D</text>
<text x="1043.60" y="297.70" font-size="16" font-weight="normal" text-anchor="middle" fill="#111">E</text>
<text x="957.00" y="340.30" font-size="16" font-weight="normal" text-anchor="middle" fill="#111">B</text>
<text x="1049.30" y="355.60" font-size="16" font-weight="normal" text-anchor="middle" fill="#111">C</text>
<rect x="943.60" y="210.30" width="17.80" height="8.70" fill="#fff" stroke="#111" stroke-width="2.2"/>
<rect x="922.30" y="231.40" width="8.90" height="17.30" fill="#fff" stroke="#111" stroke-width="2.2"/>
<rect x="1075.20" y="310.00" width="18.60" height="20.90" fill="#fff" stroke="#111" stroke-width="2.2"/>
<line x1="1075.20" y1="320.00" x2="1093.80" y2="320.00" stroke="#111" stroke-width="1"/>
<text x="928.00" y="168.30" font-size="14" font-weight="normal" text-anchor="middle" fill="#111" stroke="#111" stroke-width="0.5">1</text>
<line x1="918.00" y1="170.70" x2="936.60" y2="170.70" stroke="#111" stroke-width="1.6"/>
<line x1="936.60" y1="170.70" x2="948.50" y2="207.90" stroke="#111" stroke-width="1.6"/>
<path d="M948.50,207.90 L943.89,202.02 L948.84,200.44 Z" fill="#111"/>
<line x1="924.30" y1="191.80" x2="1017.00" y2="191.80" stroke="#111" stroke-width="1.4"/>
<line x1="931.20" y1="185.60" x2="931.20" y2="207.90" stroke="#111" stroke-width="1.4"/>
<line x1="951.50" y1="185.60" x2="951.50" y2="210.30" stroke="#111" stroke-width="1.4"/>
<line x1="926.20" y1="196.80" x2="936.20" y2="186.80" stroke="#111" stroke-width="2.2"/>
<line x1="946.50" y1="196.80" x2="956.50" y2="186.80" stroke="#111" stroke-width="2.2"/>
<text transform="translate(966.30,188.00) scale(0.8400,1)" x="0" y="0" font-size="14.0" font-weight="normal" fill="#111" stroke="#111" stroke-width="0.5" textLength="56.1" lengthAdjust="spacing">100–350</text>
<text x="873.50" y="214.60" font-size="14" font-weight="normal" text-anchor="middle" fill="#111" stroke="#111" stroke-width="0.5">2</text>
<line x1="863.60" y1="217.80" x2="879.70" y2="217.80" stroke="#111" stroke-width="1.6"/>
<line x1="879.70" y1="217.80" x2="921.80" y2="233.90" stroke="#111" stroke-width="1.6"/>
<path d="M921.80,233.90 L914.33,233.83 L916.19,228.97 Z" fill="#111"/>
<line x1="904.00" y1="211.60" x2="904.00" y2="304.40" stroke="#111" stroke-width="1.4"/>
<line x1="897.00" y1="219.00" x2="931.20" y2="219.00" stroke="#111" stroke-width="1.4"/>
<line x1="897.00" y1="240.00" x2="922.30" y2="240.00" stroke="#111" stroke-width="1.4"/>
<line x1="899.00" y1="214.00" x2="909.00" y2="224.00" stroke="#111" stroke-width="2.2"/>
<line x1="899.00" y1="235.00" x2="909.00" y2="245.00" stroke="#111" stroke-width="2.2"/>
<text x="896.50" y="277.20" font-size="14.0" font-weight="normal" text-anchor="middle" fill="#111" textLength="47.0" lengthAdjust="spacingAndGlyphs" transform="rotate(-90 896.50 277.20)" dominant-baseline="central" stroke="#111" stroke-width="0.5">100–350</text>
<text x="1112.40" y="276.00" font-size="14" font-weight="normal" text-anchor="middle" fill="#111" stroke="#111" stroke-width="0.5">3</text>
<line x1="1121.00" y1="279.70" x2="1101.00" y2="279.70" stroke="#111" stroke-width="1.6"/>
<line x1="1101.00" y1="279.70" x2="1086.40" y2="310.00" stroke="#111" stroke-width="1.6"/>
<path d="M1086.40,310.00 L1087.10,302.57 L1091.78,304.82 Z" fill="#111"/>
<line x1="1142.80" y1="201.70" x2="1142.80" y2="375.00" stroke="#111" stroke-width="1.4"/>
<line x1="1075.20" y1="207.90" x2="1150.70" y2="207.90" stroke="#111" stroke-width="1.4"/>
<line x1="1075.20" y1="373.00" x2="1150.70" y2="373.00" stroke="#111" stroke-width="1.4"/>
<line x1="1137.80" y1="202.90" x2="1147.80" y2="212.90" stroke="#111" stroke-width="2.2"/>
<line x1="1137.80" y1="368.00" x2="1147.80" y2="378.00" stroke="#111" stroke-width="2.2"/>
<text x="1134.70" y="290.20" font-size="14.0" font-weight="normal" text-anchor="middle" fill="#111" textLength="24.0" lengthAdjust="spacingAndGlyphs" transform="rotate(-90 1134.70 290.20)" dominant-baseline="central" stroke="#111" stroke-width="0.5">1000</text>
<line x1="1118.60" y1="313.00" x2="1118.60" y2="367.50" stroke="#111" stroke-width="1.4"/>
<line x1="1093.80" y1="320.00" x2="1126.00" y2="320.00" stroke="#111" stroke-width="1.4"/>
<line x1="1075.20" y1="363.00" x2="1126.00" y2="363.00" stroke="#111" stroke-width="1.4"/>
<line x1="1113.60" y1="315.00" x2="1123.60" y2="325.00" stroke="#111" stroke-width="2.2"/>
<line x1="1113.60" y1="358.00" x2="1123.60" y2="368.00" stroke="#111" stroke-width="2.2"/>
<text x="1111.00" y="340.90" font-size="14.0" font-weight="normal" text-anchor="middle" fill="#111" textLength="21.0" lengthAdjust="spacingAndGlyphs" transform="rotate(-90 1111.00 340.90)" dominant-baseline="central" stroke="#111" stroke-width="0.5">260</text>
<line x1="924.30" y1="393.50" x2="1100.00" y2="393.50" stroke="#111" stroke-width="1.4"/>
<line x1="931.20" y1="373.00" x2="931.20" y2="400.00" stroke="#111" stroke-width="1.4"/>
<line x1="1093.80" y1="330.90" x2="1093.80" y2="400.00" stroke="#111" stroke-width="1.4"/>
<line x1="926.20" y1="398.50" x2="936.20" y2="388.50" stroke="#111" stroke-width="2.2"/>
<line x1="1088.80" y1="398.50" x2="1098.80" y2="388.50" stroke="#111" stroke-width="2.2"/>
<text transform="translate(1001.50,389.80) scale(0.7524,1)" x="0" y="0" font-size="14.0" font-weight="normal" fill="#111" stroke="#111" stroke-width="0.5" textLength="30.6" lengthAdjust="spacing">1180</text>
<text transform="translate(1208.80,147.00) scale(0.9200,1)" x="0" y="0" font-size="16" font-weight="normal" fill="#111" stroke="#111" stroke-width="0.5" textLength="322.0" lengthAdjust="spacing">Габаритные размеры ТОПАС–С 5 Лонг**:</text>
<text transform="translate(1208.80,184.50) scale(0.9200,1)" x="0" y="0" font-size="16" font-weight="normal" fill="#111" stroke="#111" stroke-width="0.5" textLength="48.8" lengthAdjust="spacing">Длина</text>
<text transform="translate(1345.80,184.50) scale(0.8416,1)" x="0" y="0" font-size="16" font-weight="normal" fill="#111" stroke="#111" stroke-width="0.5" textLength="61.8" lengthAdjust="spacing">1180мм;</text>
<text transform="translate(1208.80,203.60) scale(0.8939,1)" x="0" y="0" font-size="16" font-weight="normal" fill="#111" stroke="#111" stroke-width="0.5" textLength="60.1" lengthAdjust="spacing">Ширина</text>
<text transform="translate(1345.80,203.60) scale(0.8682,1)" x="0" y="0" font-size="16" font-weight="normal" fill="#111" stroke="#111" stroke-width="0.5" textLength="67.5" lengthAdjust="spacing">1000 мм;</text>
<text transform="translate(1208.80,222.30) scale(0.9200,1)" x="0" y="0" font-size="16" font-weight="normal" fill="#111" stroke="#111" stroke-width="0.5" textLength="58.4" lengthAdjust="spacing">Высота</text>
<text transform="translate(1345.80,222.30) scale(0.8682,1)" x="0" y="0" font-size="16" font-weight="normal" fill="#111" stroke="#111" stroke-width="0.5" textLength="67.5" lengthAdjust="spacing">3100 мм;</text>
<text transform="translate(1208.80,241.60) scale(0.9200,1)" x="0" y="0" font-size="16" font-weight="normal" fill="#111" stroke="#111" stroke-width="0.5" textLength="78.0" lengthAdjust="spacing">Вес, макс.</text>
<text transform="translate(1345.80,241.60) scale(0.9200,1)" x="0" y="0" font-size="16" font-weight="normal" fill="#111" stroke="#111" stroke-width="0.5" textLength="54.1" lengthAdjust="spacing">340 кг.</text>
<text transform="translate(1208.80,279.60) scale(0.9200,1)" x="0" y="0" font-size="16" font-weight="normal" fill="#111" stroke="#111" stroke-width="0.5" textLength="176.3" lengthAdjust="spacing">A – приемная камера;</text>
<text transform="translate(1208.80,298.60) scale(0.9200,1)" x="0" y="0" font-size="16" font-weight="normal" fill="#111" stroke="#111" stroke-width="0.5" textLength="111.7" lengthAdjust="spacing">B – аэротенк;</text>
<text transform="translate(1208.80,317.40) scale(0.9200,1)" x="0" y="0" font-size="16" font-weight="normal" fill="#111" stroke="#111" stroke-width="0.5" textLength="211.4" lengthAdjust="spacing">C – вторичный отстойник;</text>
<text transform="translate(1208.80,336.60) scale(0.9200,1)" x="0" y="0" font-size="16" font-weight="normal" fill="#111" stroke="#111" stroke-width="0.5" textLength="275.1" lengthAdjust="spacing">D – стабилизатор активного ила;</text>
<text transform="translate(1208.80,355.40) scale(0.9200,1)" x="0" y="0" font-size="16" font-weight="normal" fill="#111" stroke="#111" stroke-width="0.5" textLength="204.2" lengthAdjust="spacing">E – компрессорный отсек.</text>
<text transform="translate(904.80,428.00) scale(0.8400,1)" x="0" y="0" font-size="14.0" font-weight="normal" fill="#111" stroke="#111" stroke-width="0.5" textLength="759.8" lengthAdjust="spacing">1, 2 – варианты входа  стоков (ввод трубы монтируется при монтаже, либо, по желанию заказчика, на</text>
<text transform="translate(876.40,444.80) scale(0.8400,1)" x="0" y="0" font-size="14.0" font-weight="normal" fill="#111" stroke="#111" stroke-width="0.5" textLength="634.4" lengthAdjust="spacing">заводе изготовителя (в соответствии с размерами, указанными в заявке на врезку);</text>
<text transform="translate(904.80,461.40) scale(0.8400,1)" x="0" y="0" font-size="14.0" font-weight="normal" fill="#111" stroke="#111" stroke-width="0.5" textLength="468.0" lengthAdjust="spacing">3 – выход очищенной воды (труба ⌀110 монтируется на заводе).</text>
<text transform="translate(904.80,493.60) scale(0.8400,1)" x="0" y="0" font-size="14.0" font-weight="normal" fill="#111" stroke="#111" stroke-width="0.5" textLength="733.9" lengthAdjust="spacing">Монтажные и земляные работы проводить согласно СП 129.13330.2011 “Наружные сети и сооружения</text>
<text transform="translate(876.40,509.60) scale(0.8400,1)" x="0" y="0" font-size="14.0" font-weight="normal" fill="#111" stroke="#111" stroke-width="0.5" textLength="234.4" lengthAdjust="spacing">водоснабжения и канализации”.</text>
<text transform="translate(904.80,708.90) scale(0.8400,1)" x="0" y="0" font-size="14.0" font-weight="normal" fill="#111" stroke="#111" stroke-width="0.5" textLength="765.7" lengthAdjust="spacing">Разработку котлована производить при условии соблюдения правил техники безопасности проведения</text>
<text transform="translate(876.40,724.20) scale(0.8400,1)" x="0" y="0" font-size="14.0" font-weight="normal" fill="#111" stroke="#111" stroke-width="0.5" textLength="769.3" lengthAdjust="spacing">земляных работ, с соблюдением требований действующей нормативной документации. Монтаж станции</text>
<text transform="translate(876.40,739.50) scale(0.8400,1)" x="0" y="0" font-size="14.0" font-weight="normal" fill="#111" stroke="#111" stroke-width="0.5" textLength="807.9" lengthAdjust="spacing">производить на песчаную подсыпку, станцию не подвергать ударам, обсыпку производить вместе с заливкой</text>
<text transform="translate(876.40,754.90) scale(0.8400,1)" x="0" y="0" font-size="14.0" font-weight="normal" fill="#111" stroke="#111" stroke-width="0.5" textLength="491.2" lengthAdjust="spacing">одновременно для компенсации внутреннего и внешнего давления.</text>
<text transform="translate(904.80,803.00) scale(0.8400,1)" x="0" y="0" font-size="14.0" font-weight="normal" fill="#111" stroke="#111" stroke-width="0.5" textLength="772.6" lengthAdjust="spacing">*При определении отметки уровня земли предусмотреть будущее благоустройство участка, возможные</text>
<text transform="translate(876.40,820.00) scale(0.8400,1)" x="0" y="0" font-size="14.0" font-weight="normal" fill="#111" stroke="#111" stroke-width="0.5" textLength="628.9" lengthAdjust="spacing">ландшафтные работы (которые могут привести к изменению отметки уровня земли).</text>
<text transform="translate(904.80,835.30) scale(0.8400,1)" x="0" y="0" font-size="14.0" font-weight="normal" fill="#111" stroke="#111" stroke-width="0.5" textLength="538.7" lengthAdjust="spacing">**Производитель может изменить габариты продукции без уведомления.</text>
<text transform="translate(904.80,869.20) scale(0.8400,1)" x="0" y="0" font-size="14.0" font-weight="normal" fill="#111" stroke="#111" stroke-width="0.5" textLength="451.9" lengthAdjust="spacing">Расход песка не менее – 6.1 м³, расход воды не менее – 1,4 м³.</text>
<line x1="904.80" y1="871.90" x2="1284.40" y2="871.90" stroke="#111" stroke-width="1.4"/>
<text transform="translate(904.80,693.40) scale(0.7503,1)" x="0" y="0" font-size="15.3" font-weight="normal" fill="#111" stroke="#111" stroke-width="0.5" textLength="371.8" lengthAdjust="spacing">ПРИ МОНТАЖЕ ОБРАТИТЬ ОСОБОЕ ВНИМАНИЕ:</text>
<rect x="877.30" y="533.90" width="491.70" height="128.40" fill="none" stroke="#111" stroke-width="2.8"/>
<line x1="877.30" y1="555.90" x2="1369.00" y2="555.90" stroke="#111" stroke-width="2.6"/>
<line x1="877.30" y1="594.50" x2="1369.00" y2="594.50" stroke="#111" stroke-width="2.6"/>
<line x1="877.30" y1="616.80" x2="1369.00" y2="616.80" stroke="#111" stroke-width="2"/>
<line x1="877.30" y1="639.60" x2="1369.00" y2="639.60" stroke="#111" stroke-width="2"/>
<line x1="1066.60" y1="555.90" x2="1066.60" y2="662.30" stroke="#111" stroke-width="2.6"/>
<line x1="1218.00" y1="555.90" x2="1218.00" y2="662.30" stroke="#111" stroke-width="2.6"/>
<line x1="1142.00" y1="594.50" x2="1142.00" y2="662.30" stroke="#111" stroke-width="2.2"/>
<line x1="1294.00" y1="594.50" x2="1294.00" y2="662.30" stroke="#111" stroke-width="2.2"/>
<text transform="translate(1056.90,550.20) scale(0.8400,1)" x="0" y="0" font-size="14.0" font-weight="normal" fill="#111" stroke="#111" stroke-width="0.5" textLength="159.3" lengthAdjust="spacing">Пояснение к схеме №1</text>
<text transform="translate(1075.60,573.00) scale(0.8400,1)" x="0" y="0" font-size="14.0" font-weight="normal" fill="#111" stroke="#111" stroke-width="0.5" textLength="154.4" lengthAdjust="spacing">От дна установки до</text>
<text transform="translate(1079.60,586.70) scale(0.8400,1)" x="0" y="0" font-size="14.0" font-weight="normal" fill="#111" stroke="#111" stroke-width="0.5" textLength="149.6" lengthAdjust="spacing">нижнего края трубы</text>
<text transform="translate(1220.50,574.00) scale(0.8400,1)" x="0" y="0" font-size="14.0" font-weight="normal" fill="#111" stroke="#111" stroke-width="0.5" textLength="174.8" lengthAdjust="spacing">От поверхности грунта</text>
<text transform="translate(1224.70,587.40) scale(0.8400,1)" x="0" y="0" font-size="14.0" font-weight="normal" fill="#111" stroke="#111" stroke-width="0.5" textLength="169.8" lengthAdjust="spacing">до нижнего края трубы</text>
<text transform="translate(1095.90,610.30) scale(0.7771,1)" x="0" y="0" font-size="14.0" font-weight="normal" fill="#111" stroke="#111" stroke-width="0.5" textLength="22.9" lengthAdjust="spacing">min</text>
<text transform="translate(1168.20,611.00) scale(0.8400,1)" x="0" y="0" font-size="14.0" font-weight="normal" fill="#111" stroke="#111" stroke-width="0.5" textLength="29.2" lengthAdjust="spacing">max</text>
<text transform="translate(1246.70,610.30) scale(0.8076,1)" x="0" y="0" font-size="14.0" font-weight="normal" fill="#111" stroke="#111" stroke-width="0.5" textLength="22.9" lengthAdjust="spacing">min</text>
<text transform="translate(1320.00,611.00) scale(0.8400,1)" x="0" y="0" font-size="14.0" font-weight="normal" fill="#111" stroke="#111" stroke-width="0.5" textLength="28.2" lengthAdjust="spacing">max</text>
<text transform="translate(914.70,633.00) scale(0.8400,1)" x="0" y="0" font-size="14.0" font-weight="normal" fill="#111" stroke="#111" stroke-width="0.5" textLength="136.3" lengthAdjust="spacing">Вход сточной воды</text>
<text transform="translate(902.50,655.30) scale(0.8400,1)" x="0" y="0" font-size="14.0" font-weight="normal" fill="#111" stroke="#111" stroke-width="0.5" textLength="165.4" lengthAdjust="spacing">Выход очищенной воды</text>
<text transform="translate(1091.80,633.00) scale(0.8062,1)" x="0" y="0" font-size="14.0" font-weight="normal" fill="#111" stroke="#111" stroke-width="0.5" textLength="31.6" lengthAdjust="spacing">1400</text>
<text transform="translate(1091.80,655.30) scale(0.8062,1)" x="0" y="0" font-size="14.0" font-weight="normal" fill="#111" stroke="#111" stroke-width="0.5" textLength="31.6" lengthAdjust="spacing">1800</text>
<text transform="translate(1168.00,633.00) scale(0.8062,1)" x="0" y="0" font-size="14.0" font-weight="normal" fill="#111" stroke="#111" stroke-width="0.5" textLength="31.6" lengthAdjust="spacing">1800</text>
<text transform="translate(1168.00,655.30) scale(0.8062,1)" x="0" y="0" font-size="14.0" font-weight="normal" fill="#111" stroke="#111" stroke-width="0.5" textLength="31.6" lengthAdjust="spacing">1800</text>
<text transform="translate(1244.00,633.00) scale(0.8062,1)" x="0" y="0" font-size="14.0" font-weight="normal" fill="#111" stroke="#111" stroke-width="0.5" textLength="31.6" lengthAdjust="spacing">1050</text>
<text transform="translate(1244.00,655.30) scale(0.8062,1)" x="0" y="0" font-size="14.0" font-weight="normal" fill="#111" stroke="#111" stroke-width="0.5" textLength="31.6" lengthAdjust="spacing">1050</text>
<text transform="translate(1319.20,633.00) scale(0.8062,1)" x="0" y="0" font-size="14.0" font-weight="normal" fill="#111" stroke="#111" stroke-width="0.5" textLength="31.6" lengthAdjust="spacing">1450</text>
<text transform="translate(1319.20,655.30) scale(0.8062,1)" x="0" y="0" font-size="14.0" font-weight="normal" fill="#111" stroke="#111" stroke-width="0.5" textLength="31.6" lengthAdjust="spacing">1050</text>
<line x1="874.70" y1="882.00" x2="1575.70" y2="882.00" stroke="#111" stroke-width="3"/>
<line x1="874.70" y1="882.00" x2="874.70" y2="1090.60" stroke="#111" stroke-width="3"/>
<line x1="1121.40" y1="882.00" x2="1121.40" y2="1090.60" stroke="#111" stroke-width="3"/>
<line x1="950.60" y1="882.00" x2="950.60" y2="1090.60" stroke="#111" stroke-width="3"/>
<line x1="1026.40" y1="882.00" x2="1026.40" y2="1090.60" stroke="#111" stroke-width="3"/>
<line x1="1083.20" y1="882.00" x2="1083.20" y2="1090.60" stroke="#111" stroke-width="3"/>
<line x1="912.70" y1="882.00" x2="912.70" y2="976.10" stroke="#111" stroke-width="3"/>
<line x1="988.50" y1="882.00" x2="988.50" y2="976.10" stroke="#111" stroke-width="3"/>
<line x1="874.70" y1="900.90" x2="1121.40" y2="900.90" stroke="#111" stroke-width="2"/>
<line x1="874.70" y1="919.70" x2="1121.40" y2="919.70" stroke="#111" stroke-width="2"/>
<line x1="874.70" y1="938.80" x2="1121.40" y2="938.80" stroke="#111" stroke-width="2"/>
<line x1="874.70" y1="996.00" x2="1121.40" y2="996.00" stroke="#111" stroke-width="2"/>
<line x1="874.70" y1="1014.70" x2="1121.40" y2="1014.70" stroke="#111" stroke-width="2"/>
<line x1="874.70" y1="1033.50" x2="1121.40" y2="1033.50" stroke="#111" stroke-width="2"/>
<line x1="874.70" y1="1052.60" x2="1121.40" y2="1052.60" stroke="#111" stroke-width="2"/>
<line x1="874.70" y1="1071.50" x2="1121.40" y2="1071.50" stroke="#111" stroke-width="2"/>
<line x1="874.70" y1="957.70" x2="1121.40" y2="957.70" stroke="#111" stroke-width="3"/>
<line x1="874.70" y1="976.10" x2="1121.40" y2="976.10" stroke="#111" stroke-width="3"/>
<line x1="912.70" y1="957.70" x2="912.70" y2="976.10" stroke="#111" stroke-width="3"/>
<line x1="950.60" y1="957.70" x2="950.60" y2="976.10" stroke="#111" stroke-width="3"/>
<line x1="988.50" y1="957.70" x2="988.50" y2="976.10" stroke="#111" stroke-width="3"/>
<line x1="1026.40" y1="957.70" x2="1026.40" y2="976.10" stroke="#111" stroke-width="3"/>
<line x1="1083.20" y1="957.70" x2="1083.20" y2="976.10" stroke="#111" stroke-width="3"/>
<text transform="translate(881.50,972.60) scale(0.7702,1)" x="0" y="0" font-size="14.5" font-weight="normal" fill="#111" stroke="#111" stroke-width="0.5" textLength="31.6" lengthAdjust="spacing">Изм.</text>
<text transform="translate(916.50,972.60) scale(0.6468,1)" x="0" y="0" font-size="14.5" font-weight="normal" fill="#111" stroke="#111" stroke-width="0.5" textLength="48.2" lengthAdjust="spacing">Кол.уч.</text>
<text transform="translate(955.40,972.60) scale(0.8400,1)" x="0" y="0" font-size="14.5" font-weight="normal" fill="#111" stroke="#111" stroke-width="0.5" textLength="33.7" lengthAdjust="spacing">Лист</text>
<text transform="translate(992.40,972.60) scale(0.6590,1)" x="0" y="0" font-size="14.5" font-weight="normal" fill="#111" stroke="#111" stroke-width="0.5" textLength="47.2" lengthAdjust="spacing">№ док.</text>
<text transform="translate(1039.00,972.60) scale(0.7979,1)" x="0" y="0" font-size="14.5" font-weight="normal" fill="#111" stroke="#111" stroke-width="0.5" textLength="39.1" lengthAdjust="spacing">Подп.</text>
<text transform="translate(1086.70,972.60) scale(0.8400,1)" x="0" y="0" font-size="14.5" font-weight="normal" fill="#111" stroke="#111" stroke-width="0.5" textLength="34.8" lengthAdjust="spacing">Дата</text>
<line x1="1121.40" y1="920.50" x2="1575.70" y2="920.50" stroke="#111" stroke-width="3"/>
<line x1="1121.40" y1="977.20" x2="1575.70" y2="977.20" stroke="#111" stroke-width="3"/>
<line x1="1121.40" y1="1033.60" x2="1575.70" y2="1033.60" stroke="#111" stroke-width="3"/>
<line x1="1386.70" y1="977.20" x2="1386.70" y2="1090.60" stroke="#111" stroke-width="3"/>
<line x1="1443.40" y1="977.20" x2="1443.40" y2="1033.60" stroke="#111" stroke-width="3"/>
<line x1="1499.80" y1="977.20" x2="1499.80" y2="1033.60" stroke="#111" stroke-width="3"/>
<line x1="1386.70" y1="994.90" x2="1575.70" y2="994.90" stroke="#111" stroke-width="3"/>
<text transform="translate(1392.60,991.90) scale(0.8400,1)" x="0" y="0" font-size="12.5" font-weight="normal" fill="#111" stroke="#111" stroke-width="0.5" textLength="52.5" lengthAdjust="spacing">Стадия</text>
<text transform="translate(1457.20,991.90) scale(0.8400,1)" x="0" y="0" font-size="12.5" font-weight="normal" fill="#111" stroke="#111" stroke-width="0.5" textLength="35.0" lengthAdjust="spacing">Лист</text>
<text transform="translate(1516.90,991.90) scale(0.8400,1)" x="0" y="0" font-size="12.5" font-weight="normal" fill="#111" stroke="#111" stroke-width="0.5" textLength="51.3" lengthAdjust="spacing">Листов</text>
<text x="1538.90" y="1019.50" font-size="13.5" font-weight="normal" text-anchor="middle" fill="#111">1</text>
<text transform="translate(1169.30,997.80) scale(0.85,1)" x="0" y="0" font-size="19" font-weight="normal" fill="#111" textLength="198.8" lengthAdjust="spacing">Установка очистки</text>
<text transform="translate(1200.20,1013.70) scale(0.85,1)" x="0" y="0" font-size="19" font-weight="normal" fill="#111" textLength="126.1" lengthAdjust="spacing">сточных вод</text>
<text transform="translate(1198.70,1029.20) scale(0.85,1)" x="0" y="0" font-size="19" font-weight="normal" fill="#111" textLength="130.4" lengthAdjust="spacing">V=1,0 м3/сут</text>
<text transform="translate(1175.20,1068.90) scale(0.8,1)" x="0" y="0" font-size="14.5" font-weight="normal" fill="#111" stroke="#111" stroke-width="0.35" textLength="203.1" lengthAdjust="spacing">ТОПАС–С/TOPAS–S 5 Лонг</text>
<text transform="translate(1389.70,1069.50) scale(0.66,1)" x="0" y="0" font-size="20.5" font-weight="normal" fill="#111" textLength="277.3" lengthAdjust="spacing">ТОПОЛ–ЭКО/TOPOL–ECO</text>
<text transform="translate(1428.70,1105.60) scale(0.8400,1)" x="0" y="0" font-size="13.5" font-weight="normal" fill="#111" stroke="#111" stroke-width="0.5" textLength="57.4" lengthAdjust="spacing">Формат</text>
<text transform="translate(1521.90,1105.60) scale(0.8400,1)" x="0" y="0" font-size="13.5" font-weight="normal" fill="#111" stroke="#111" stroke-width="0.5" textLength="18.5" lengthAdjust="spacing">А3</text>
</svg>
</body></html>
